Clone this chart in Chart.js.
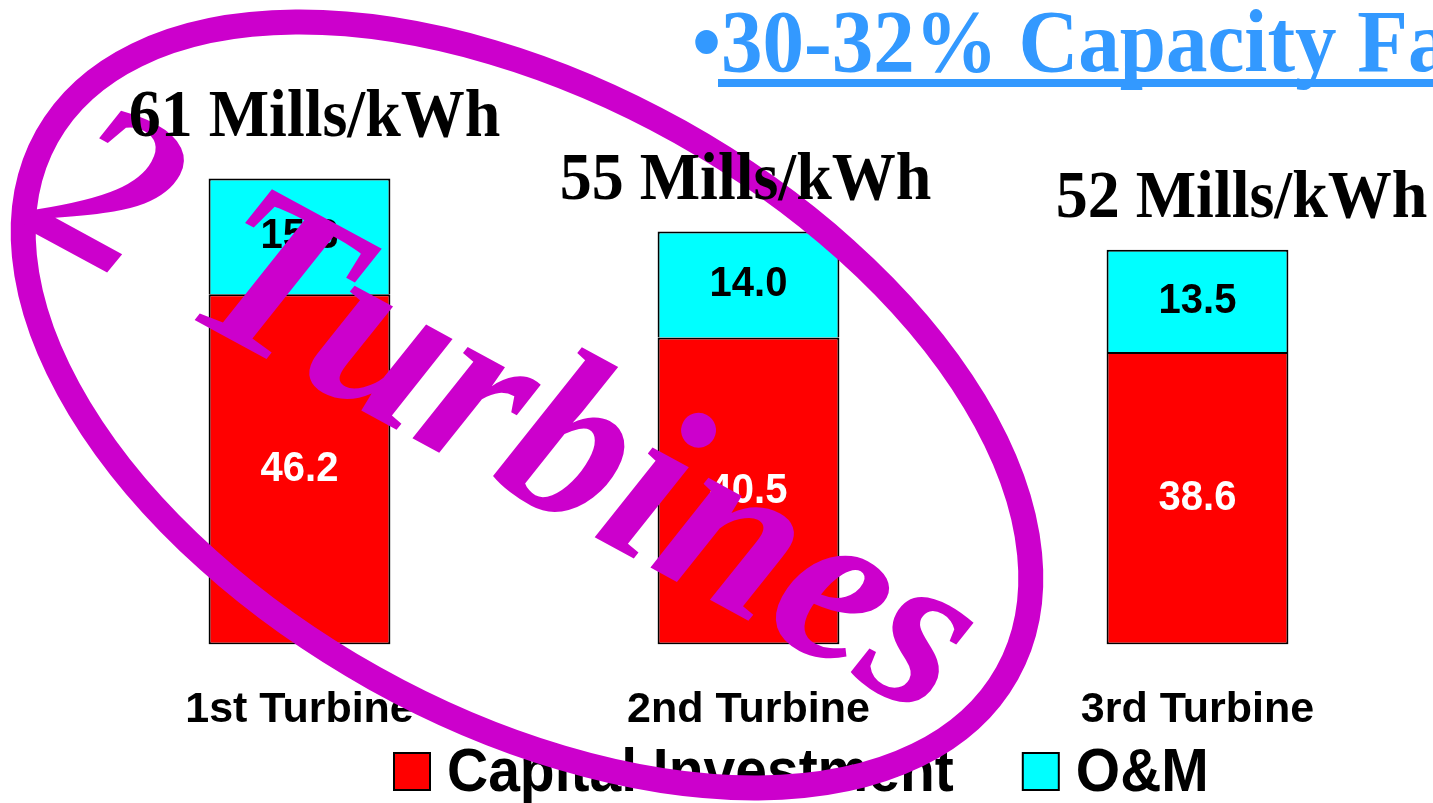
<!DOCTYPE html>
<html>
<head>
<meta charset="utf-8">
<script src="https://cdn.jsdelivr.net/npm/chart.js@4.4.1/dist/chart.umd.min.js"></script>
<style>
    html, body { margin: 0; padding: 0; background: #fff; overflow: hidden; }
</style>
</head>
<body>
<canvas id="chart" width="1433" height="803"></canvas>
<script>
const categories = ["1st Turbine", "2nd Turbine", "3rd Turbine"];
const capital = [46.2, 40.5, 38.6];
const om = [15.3, 14.0, 13.5];
const totals = [61, 55, 52];
const seriesNames = ["Capital Investment", "O&M"];
const headline = "30-32% Capacity Factor";
const stamp = "2 Turbines";

// the slide text looks a bit taller than it is wide
const STRETCH = 1.07;
// where the "xx Mills/kWh" labels sit relative to the top of each stack
const totalOffsets = [[15, -42], [-3, -32], [44, -33]];

function stretchedText(ctx, text, x, y) {
    ctx.save();
    ctx.translate(x, y);
    ctx.scale(1, STRETCH);
    ctx.fillText(text, 0, 0);
    ctx.restore();
}

const slideText = {
    id: "slideText",
    afterDatasetsDraw(chart) {
        let ctx = chart.ctx;
        ctx.save();
        ctx.font = "bold 40px 'Liberation Sans'";
        ctx.textAlign = "center";
        ctx.textBaseline = "middle";
        chart.data.datasets.forEach((ds, d) => {
            chart.getDatasetMeta(d).data.forEach((bar, i) => {
                ctx.fillStyle = d === 0 ? "#ffffff" : "#000000";
                stretchedText(ctx, ds.data[i].toFixed(1), bar.x, (bar.y + bar.base) / 2);
            });
        });
        ctx.restore();
    },
    afterDraw(chart) {
        let ctx = chart.ctx;
        ctx.save();

        // headline, runs off the right edge like on the slide
        ctx.fillStyle = "#3399ff";
        ctx.font = "bold 83px 'Liberation Serif'";
        ctx.textBaseline = "alphabetic";
        ctx.textAlign = "right";
        stretchedText(ctx, "\u2022", 721, 71);
        ctx.textAlign = "left";
        stretchedText(ctx, headline, 721, 71);
        ctx.fillRect(718, 79, ctx.measureText(headline).width + 10, 8);

        // legend
        ctx.font = "bold 57px 'Liberation Sans'";
        ctx.textBaseline = "alphabetic";
        let x = 393;
        chart.data.datasets.forEach((ds) => {
            ctx.fillStyle = "#000000";
            ctx.fillRect(x, 752, 38, 39);
            ctx.fillStyle = ds.backgroundColor;
            ctx.fillRect(x + 2, 754, 34, 35);
            ctx.fillStyle = "#000000";
            stretchedText(ctx, ds.label, x + 54, 791);
            x += 54 + ctx.measureText(ds.label).width + 68;
        });

        // the hand-drawn "2 Turbines" stamp
        ctx.strokeStyle = "#cc00cc";
        ctx.lineWidth = 25;
        ctx.beginPath();
        ctx.ellipse(527, 405, 550, 313, 29.2 * Math.PI / 180, 0, Math.PI * 2);
        ctx.stroke();

        ctx.save();
        ctx.translate(25, 228);
        ctx.rotate(28.5 * Math.PI / 180);
        ctx.fillStyle = "#cc00cc";
        ctx.font = "italic bold 232px 'Liberation Serif'";
        ctx.textAlign = "left";
        ctx.textBaseline = "alphabetic";
        ctx.fillText(stamp, 0, 0);
        ctx.restore();

        // totals above each stack
        ctx.fillStyle = "#000000";
        ctx.font = "bold 64px 'Liberation Serif'";
        ctx.textAlign = "center";
        ctx.textBaseline = "alphabetic";
        chart.getDatasetMeta(1).data.forEach((bar, i) => {
            let [dx, dy] = totalOffsets[i];
            stretchedText(ctx, totals[i] + " Mills/kWh", bar.x + dx, bar.y + dy);
        });

        ctx.restore();
    },
};

let chart = new Chart(document.getElementById("chart"), {
    type: "bar",
    data: {
        labels: categories,
        datasets: [
            {
                label: seriesNames[0],
                data: capital,
                backgroundColor: "#ff0000",
                borderColor: "#000000",
                borderWidth: 2,
                borderSkipped: false,
            },
            {
                label: seriesNames[1],
                data: om,
                backgroundColor: "#00ffff",
                borderColor: "#000000",
                borderWidth: 2,
                borderSkipped: "start",
            },
        ],
    },
    options: {
        responsive: false,
        animation: false,
        events: [],
        categoryPercentage: 1,
        barPercentage: 0.405,
        layout: {
            padding: { left: 75, right: 11, top: 114, bottom: 27 },
        },
        plugins: {
            legend: { display: false },
            tooltip: { enabled: false },
        },
        scales: {
            x: {
                stacked: true,
                grid: { display: false, drawTicks: false },
                border: { display: false },
                ticks: {
                    color: "#000000",
                    padding: 40,
                    font: { family: "Liberation Sans", size: 43, weight: "bold" },
                },
            },
            y: {
                stacked: true,
                display: false,
                min: 0,
                max: 70,
            },
        },
    },
    plugins: [slideText],
});
</script>
</body>
</html>
